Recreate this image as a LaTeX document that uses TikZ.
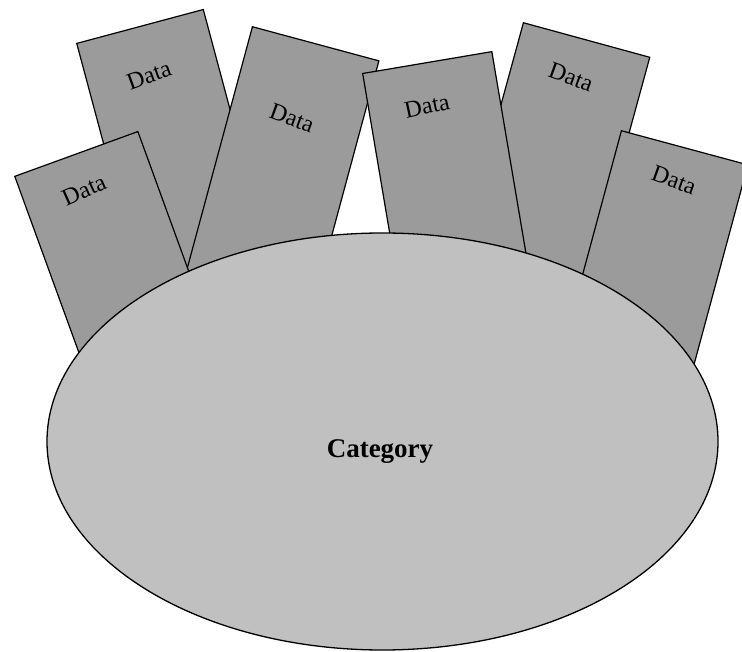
\documentclass[tikz,border=0pt]{standalone}
\usepackage{fontspec}
\setmainfont{Liberation Serif}
\usetikzlibrary{shapes.geometric}
\definecolor{rectgray}{RGB}{155,155,155}
\definecolor{ellgray}{RGB}{192,192,192}
\tikzset{
  datarect/.style={draw=black, line width=1.2pt, fill=rectgray, rectangle,
    minimum width=131pt, minimum height=300pt, inner sep=0pt, anchor=north west},
  datalabel/.style={font=\fontsize{24}{24}\selectfont, inner sep=0pt, text=black},
  catell/.style={draw=black, line width=1.3pt, fill=ellgray, ellipse,
    minimum width=671pt, minimum height=417pt, inner sep=0pt},
  catlabel/.style={font=\fontsize{27}{27}\selectfont\bfseries, inner sep=0pt, anchor=base}
}
\begin{document}
\begin{tikzpicture}[x=1pt,y=1pt]
\useasboundingbox (0,0) rectangle (742,651);
\clip (0,0) rectangle (742,651);
% back to front
\node[datarect, rotate=15] (rb) at (76,608) {};
\node[datarect, rotate=-15.3] (re) at (523,629) {};
\node[datarect, rotate=-15.1] (rc) at (252,625) {};
\node[datarect, rotate=20] (ra) at (14,475) {};
\node[datarect, rotate=9.6] (rd) at (362,578) {};
\node[datarect, rotate=-15.1] (rf) at (621,521) {};
% labels
\node[datalabel, rotate=20] (lb) at (149,576) {Data};
\node[datalabel, rotate=-20] (le) at (571,574) {Data};
\node[datalabel, rotate=-20] (lc) at (292,533) {Data};
\node[datalabel, rotate=24] (la) at (84,461) {Data};
\node[datalabel, rotate=12] (ld) at (427,545) {Data};
\node[datalabel, rotate=-20] (lf) at (674,471) {Data};
% category
\node[catell] (cat) at (382.5,209.5) {};
\node[catlabel] (catl) at (380,193) {Category};
\end{tikzpicture}
\end{document}
